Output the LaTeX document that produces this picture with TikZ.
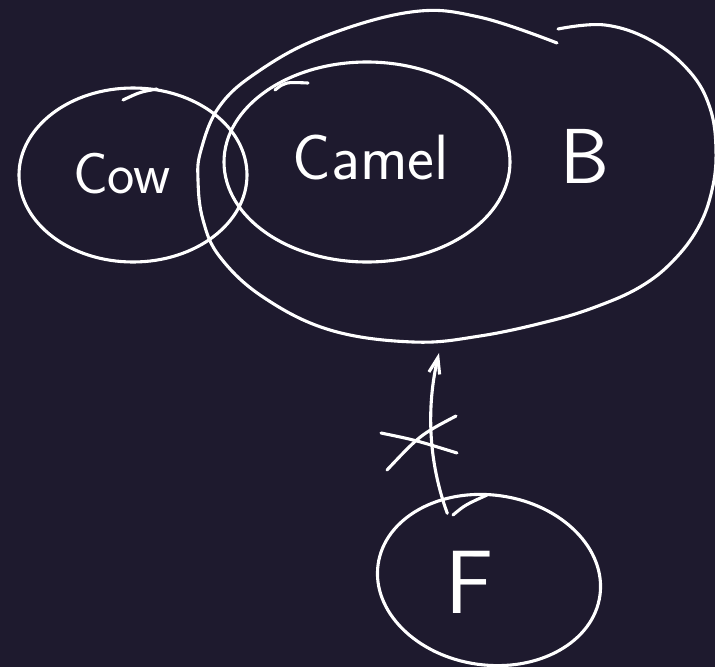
\documentclass[tikz,border=0pt]{standalone}
\usetikzlibrary{shapes.geometric,arrows.meta,calc}
\definecolor{bg}{RGB}{30,26,46}
\begin{document}
\begin{tikzpicture}[x=1pt,y=-1pt,
  pen/.style={draw=white,line width=3.1pt,line cap=round,line join=round},
  setshape/.style={ellipse,pen,inner sep=0pt},
  lbl/.style={text=white,font=\sffamily,inner sep=0pt}]
\fill[bg] (0,0) rectangle (715,667);
\useasboundingbox (0,0) rectangle (715,667);
% sets
\node[setshape,minimum width=228pt,minimum height=174pt] (cow) at (133,175) {};
\node[setshape,minimum width=286pt,minimum height=200pt] (camel) at (367,162) {};
\node[ellipse,minimum width=516pt,minimum height=328pt,inner sep=0pt] (Bset) at (456,176) {};
\draw[pen] plot[smooth,tension=0.65] coordinates {
 (558,29) (605,25) (652,41) (690,72) (710,108) (716,150) (712,190) (698,228)
 (672,262) (640,287) (598,306) (550,321) (480,336) (413,342) (330,330)
 (263,297) (220,257) (203,220) (198,180) (201,150) (219,107) (256,73)
 (320,38) (411,12) (479,17) (557,43)};
\node[setshape,minimum width=224pt,minimum height=170pt,rotate=-8] (F) at (489,580) {};
% pen-start ticks
\draw[pen] (123,100) .. controls (140,92) .. (157,89);
\draw[pen] (275,90) .. controls (285,82) .. (308,83);
\draw[pen] (453,515) .. controls (465,505) .. (487,495);
% labels
\node[lbl,font=\sffamily\fontsize{58}{58}\selectfont] (cowlbl) at (122,174) {Cow};
\node[lbl,font=\sffamily\fontsize{64}{64}\selectfont] (camellbl) at (371,158) {Camel};
\node[lbl,font=\sffamily\fontsize{78}{78}\selectfont] (blbl) at (585,156) {B};
\node[lbl,font=\sffamily\fontsize{90}{90}\selectfont] (flbl) at (470,582) {F};
% arrow with cross
\coordinate (tip) at (439,353);
\draw[pen,shorten <=-16pt,-{Straight Barb[length=16pt,width=11pt]}] (F.128) .. controls (426,455) and (428,400) .. (tip);
\coordinate (cr) at (420,443);
\draw[pen] ($(cr)+(-39,-10)$) .. controls ($(cr)+(-5,-3)$) .. ($(cr)+(37,10)$);
\draw[pen] ($(cr)+(-33,27)$) .. controls ($(cr)+(0,-8)$) .. ($(cr)+(36,-27)$);
\end{tikzpicture}
\end{document}
